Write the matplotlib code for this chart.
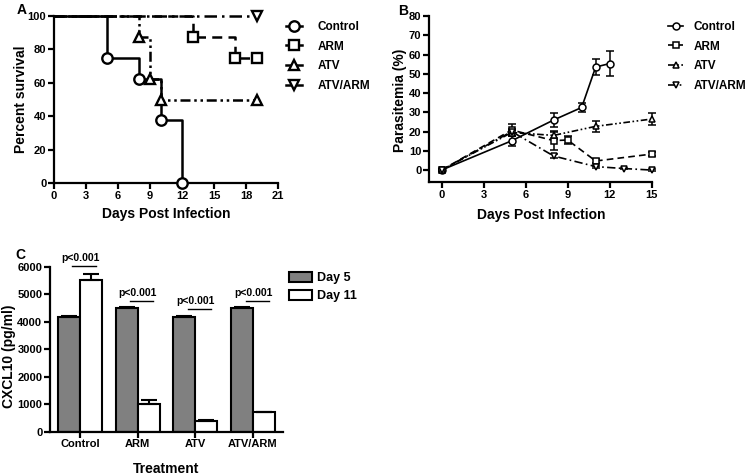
import numpy as np
import matplotlib
matplotlib.use("Agg")
from matplotlib import pyplot as plt
from matplotlib.lines import Line2D

plt.rcParams["font.family"] = ["Liberation Sans", "DejaVu Sans"]
plt.rcParams["font.weight"] = "bold"
plt.rcParams["axes.labelweight"] = "bold"

# ---- panel A: survival ----
groups = ["Control", "ARM", "ATV", "ATV/ARM"]
surv_days = {
    "Control": [0, 5, 8, 10, 12],
    "ARM": [0, 13, 17, 19],
    "ATV": [0, 8, 9, 10, 19],
    "ATV/ARM": [0, 19],
}
surv_pct = {
    "Control": [100, 75, 62.5, 37.5, 0],
    "ARM": [100, 87.5, 75, 75],
    "ATV": [100, 87.5, 62.5, 50, 50],
    "ATV/ARM": [100, 100],
}

# ---- panel B: parasitemia ----
para_days = {
    "Control": [0, 5, 8, 10, 11, 12],
    "ARM": [0, 5, 8, 9, 11, 15],
    "ATV": [0, 5, 8, 11, 15],
    "ATV/ARM": [0, 5, 8, 11, 13, 15],
}
para_mean = {
    "Control": [0, 15.2, 26, 32.5, 53.5, 55.3],
    "ARM": [0, 20.8, 15.3, 15.6, 4.7, 8.3],
    "ATV": [0, 19.5, 18, 22.7, 26.5],
    "ATV/ARM": [0, 20, 7.3, 1.8, 0.8, 0],
}
para_err = {
    "Control": [0.5, 2.5, 3.6, 2.5, 4, 6.5],
    "ARM": [0.5, 3.2, 5, 2, 1, 1.2],
    "ATV": [0.5, 2, 2, 3, 3],
    "ATV/ARM": [0.5, 1, 1, 0.5, 0.3, 0.3],
}

# ---- panel C: CXCL10 ----
treatments = ["Control", "ARM", "ATV", "ATV/ARM"]
day5 = [4180, 4490, 4170, 4490]
day5_err = [30, 40, 30, 40]
day11 = [5500, 1000, 400, 700]
day11_err = [220, 150, 15, 15]
pbar_y = [6020, 4750, 4460, 4750]
ptext = "p<0.001"

markers = {"Control": "o", "ARM": "s", "ATV": "^", "ATV/ARM": "v"}
styles = {
    "Control": "-",
    "ARM": (0, (4, 2.5)),
    "ATV": (0, (4, 1.5, 1, 1.5, 1, 1.5)),
    "ATV/ARM": (0, (5, 2, 1, 2)),
}

fig = plt.figure(figsize=(7.51, 4.75), dpi=100)
W, H = 751, 475


def style_axes(ax):
    for s in ["top", "right"]:
        ax.spines[s].set_visible(False)
    for s in ["left", "bottom"]:
        ax.spines[s].set_linewidth(1.6)
    ax.tick_params(width=1.6, length=4.5, pad=1, labelsize=8)
    for lab in ax.get_xticklabels() + ax.get_yticklabels():
        lab.set_fontweight("bold")


# A
axA = fig.add_axes([54 / W, 1 - 183 / H, 224 / W, 167 / H])
for g in groups:
    axA.plot(surv_days[g], surv_pct[g], color="black", lw=1.8, ls=styles[g],
             drawstyle="steps-post", clip_on=False)
    axA.plot(surv_days[g][1:], surv_pct[g][1:], ls="none", marker=markers[g],
             ms=7.5, mfc="white", mec="black", mew=1.7, clip_on=False, zorder=5)
axA.set_xlim(0, 21)
axA.set_ylim(0, 100)
axA.set_xticks(np.arange(0, 22, 3))
axA.set_yticks(np.arange(0, 101, 20))
axA.set_xlabel("Days Post Infection", fontsize=10)
axA.set_ylabel("Percent survival", fontsize=10)
axA.xaxis.set_label_coords(0.5, (183 - 207) / 167)
axA.yaxis.set_label_coords((28 - 54) / 224, 0.5)
style_axes(axA)
handlesA = [Line2D([], [], color="black", lw=1.8, marker=markers[g], ms=7.5,
                   mfc="white", mec="black", mew=1.7) for g in groups]
axA.legend(handlesA, groups, loc="upper left", bbox_to_anchor=(286 / W, 1 - 21 / H),
           bbox_transform=fig.transFigure, frameon=False, fontsize=8.5,
           handlelength=1.35, handletextpad=1.3, labelspacing=0.64, borderaxespad=0,
           borderpad=0)
fig.text(17 / W, 1 - 10 / H, "A", fontsize=10, fontweight="bold", va="center")

# B
axB = fig.add_axes([429 / W, 1 - 182 / H, (651.7 - 429) / W, 166 / H])
for g in groups:
    axB.errorbar(para_days[g], para_mean[g], yerr=para_err[g], color="black",
                 lw=1.2, ls=styles[g], marker=markers[g], ms=5, mfc="white",
                 mec="black", mew=1.1, capsize=3, elinewidth=1.1, capthick=1.1,
                 clip_on=False)
axB.set_xlim(-0.9, 15)
axB.set_ylim(-6.2, 80)
axB.set_xticks(np.arange(0, 16, 3))
axB.set_yticks(np.arange(0, 81, 10))
axB.set_xlabel("Days Post Infection", fontsize=10)
axB.set_ylabel("Parasitemia (%)", fontsize=10)
axB.xaxis.set_label_coords((541 - 429) / (651.7 - 429), (182 - 208) / 166)
axB.yaxis.set_label_coords((407 - 429) / (651.7 - 429), (182 - 100) / 166)
style_axes(axB)
handlesB = [Line2D([], [], color="black", lw=1.2, ls=styles[g], marker=markers[g],
                   ms=5, mfc="white", mec="black", mew=1.1) for g in groups]
axB.legend(handlesB, groups, loc="upper left", bbox_to_anchor=(668 / W, 1 - 21 / H),
           bbox_transform=fig.transFigure, frameon=False, fontsize=8.5,
           handlelength=1.3, handletextpad=0.85, labelspacing=0.64, borderaxespad=0,
           borderpad=0)
fig.text(398 / W, 1 - 11 / H, "B", fontsize=10, fontweight="bold", va="center")

# C
axC = fig.add_axes([50 / W, 1 - 431.7 / H, 233 / W, 165 / H])
x = np.arange(len(treatments))
w = 0.38
axC.bar(x - w / 2, day5, w, color="#808080", edgecolor="black", lw=1.5,
        yerr=[np.zeros(4), day5_err], capsize=5.5,
        error_kw=dict(elinewidth=1.5, capthick=1.5), label="Day 5")
axC.bar(x + w / 2, day11, w, color="white", edgecolor="black", lw=1.5,
        yerr=[np.zeros(4), day11_err], capsize=5.5,
        error_kw=dict(elinewidth=1.5, capthick=1.5), label="Day 11")
for i in range(len(treatments)):
    x0, x1 = x[i] - w / 2 + 0.06, x[i] + w / 2 + 0.08
    axC.plot([x0, x1], [pbar_y[i], pbar_y[i]], color="black", lw=1, clip_on=False)
    axC.text((x0 + x1) / 2 - 0.07, pbar_y[i] + 110, ptext, ha="center", va="bottom",
             fontsize=7.5, fontweight="bold", clip_on=False)
axC.set_xlim(-0.52, 3.52)
axC.set_ylim(0, 6000)
axC.set_xticks(x)
axC.set_xticklabels(treatments)
axC.set_yticks(np.arange(0, 6001, 1000))
axC.set_xlabel("Treatment", fontsize=10)
axC.set_ylabel("CXCL10 (pg/ml)", fontsize=10)
axC.xaxis.set_label_coords(0.5, (431.7 - 462) / 165)
axC.yaxis.set_label_coords((16 - 50) / 233, (431.7 - 356) / 165)
style_axes(axC)
axC.legend(loc="upper left", bbox_to_anchor=(289 / W, 1 - 272 / H),
           bbox_transform=fig.transFigure, frameon=False, fontsize=9,
           handlelength=1.85, handleheight=0.8, handletextpad=0.4,
           labelspacing=0.5, borderaxespad=0, borderpad=0)
fig.text(15 / W, 1 - 255 / H, "C", fontsize=10, fontweight="bold", va="center")

fig.savefig("out.png", dpi=100)
